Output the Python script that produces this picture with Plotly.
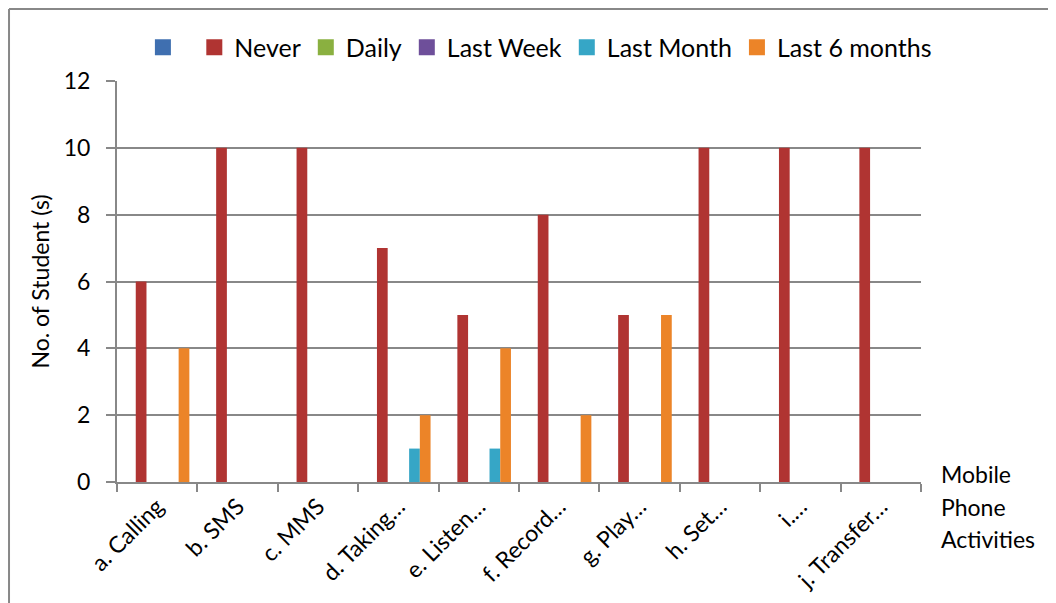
import plotly.graph_objects as go

categories = ["a. Calling", "b. SMS", "c. MMS", "d. Taking…", "e. Listen…",
              "f. Record…", "g. Play…", "h. Set…", "i.…", "j. Transfer…"]
series_names = [" ", "Never", "Daily", "Last Week", "Last Month", "Last 6 months"]
blank = [0, 0, 0, 0, 0, 0, 0, 0, 0, 0]
never = [6, 10, 10, 7, 5, 8, 5, 10, 10, 10]
daily = [0, 0, 0, 0, 0, 0, 0, 0, 0, 0]
last_week = [0, 0, 0, 0, 0, 0, 0, 0, 0, 0]
last_month = [0, 0, 0, 1, 1, 0, 0, 0, 0, 0]
last_6_months = [4, 0, 0, 2, 4, 2, 5, 0, 0, 0]
y_ticks = [0, 2, 4, 6, 8, 10, 12]
x_title_lines = ["Mobile", "Phone", "Activities"]

values = [blank, never, daily, last_week, last_month, last_6_months]
colors = ["#3F6FB0", "#B03432", "#8AB040", "#6E4F9A", "#36A6C6", "#EC8428"]

FONT = "Lato"
fig = go.Figure()
for name, vals, col in zip(series_names, values, colors):
    fig.add_trace(go.Bar(x=categories, y=vals, name=name, legendgroup=name,
                         showlegend=False,
                         marker=dict(color=col, line=dict(width=0))))
for name, col in zip(series_names, colors):
    fig.add_trace(go.Scatter(x=[None], y=[None], mode="markers", name=name,
                             legendgroup=name, showlegend=True,
                             marker=dict(symbol="square", size=16, color=col)))

fig.update_layout(
    width=1056, height=603,
    margin=dict(l=109, r=143, t=73, b=129, autoexpand=False),
    paper_bgcolor="white", plot_bgcolor="white",
    barmode="group", bargap=0.2, bargroupgap=0,
    font=dict(family=FONT, size=23, color="#000000"),
    showlegend=True,
    legend=dict(orientation="h", x=0.526, xanchor="center", y=1.026, yanchor="bottom",
                font=dict(size=25), itemwidth=30, tracegroupgap=0,
                itemsizing="trace", bgcolor="rgba(0,0,0,0)"),
    xaxis=dict(type="category", categoryorder="array", categoryarray=categories,
               tickson="boundaries", ticks="outside", ticklen=8,
               tickcolor="#888888", tickwidth=2, showline=True, linecolor="#888888",
               linewidth=2, showgrid=False, tickangle=-45,
               tickfont=dict(size=23, family=FONT)),
    yaxis=dict(range=[0, 12], tickvals=y_ticks, ticks="outside", ticklen=9,
               tickcolor="#888888", tickwidth=2, showline=True, linecolor="#888888",
               linewidth=2, showgrid=True, gridcolor="#888888", gridwidth=2,
               zeroline=False, tickfont=dict(size=23, family=FONT),
               ticklabelstandoff=11,
               title=dict(text="No. of Student (s)", font=dict(size=23, family=FONT),
                          standoff=8)),
)

for i, line in enumerate(x_title_lines):
    fig.add_annotation(text=line, xref="paper", yref="paper",
                       x=1.0, y=0.0, xanchor="left", yanchor="middle",
                       xshift=18, yshift=8 - 32.5 * i,
                       align="left", showarrow=False, font=dict(size=23, family=FONT))

fig.add_shape(type="line", xref="paper", yref="paper", x0=-0.1343, x1=1.3,
              y0=1.1796, y1=1.1796, line=dict(color="#888888", width=2))
fig.add_shape(type="line", xref="paper", yref="paper", x0=-0.1343, x1=-0.1343,
              y0=1.1796, y1=-0.4, line=dict(color="#888888", width=2))

fig.write_html("out.html")
